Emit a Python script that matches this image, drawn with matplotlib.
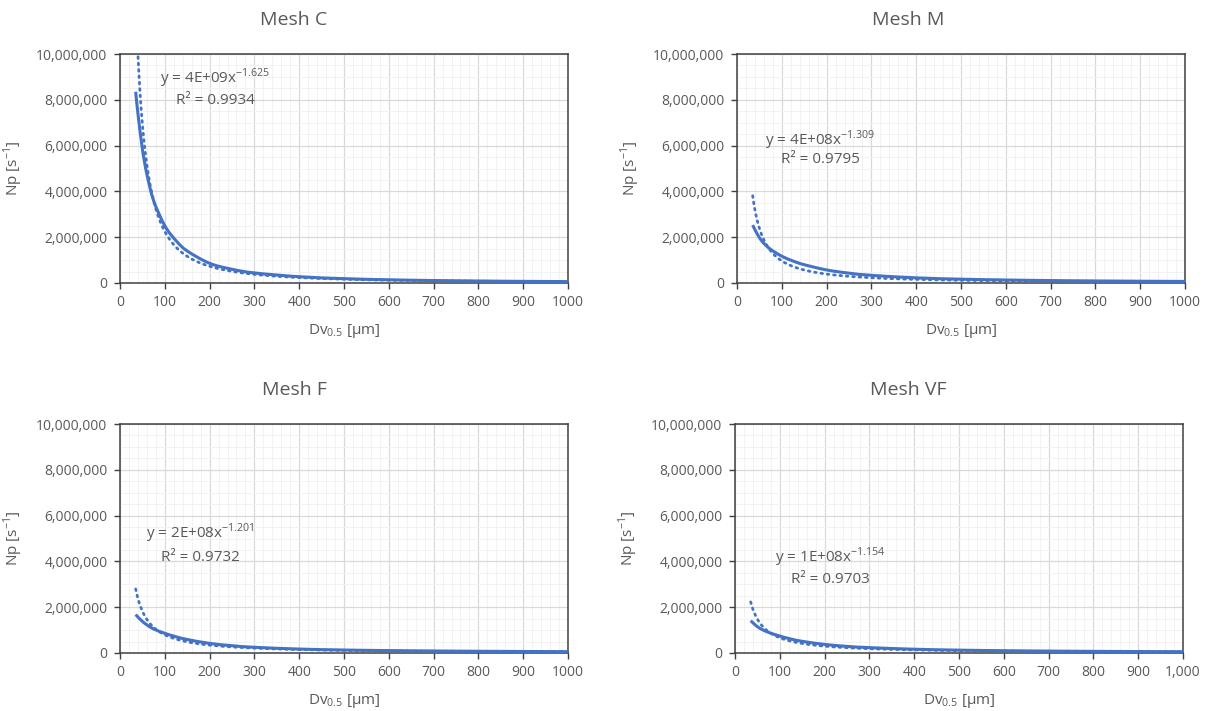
import numpy as np
import matplotlib.pyplot as plt
from matplotlib.path import Path
from matplotlib.patches import PathPatch
from matplotlib.ticker import MultipleLocator, FuncFormatter

plt.rcParams['font.family'] = ['Open Sans', 'DejaVu Sans']
plt.rcParams['mathtext.fontset'] = 'custom'
plt.rcParams['mathtext.rm'] = 'Open Sans'

# measured droplet size vs. particle number rate
dv = [35, 40, 50, 60, 75, 100, 125, 150, 200, 250, 300, 400, 500, 600, 700, 800, 900, 1000]
np_c = [8.35e6, 7.4e6, 5.85e6, 4.75e6, 3.6e6, 2.5e6, 1.85e6, 1.4e6, 0.86e6, 0.6e6, 0.44e6,
        0.275e6, 0.19e6, 0.14e6, 0.108e6, 0.087e6, 0.072e6, 0.061e6]
np_m = [2.53e6, 2.33e6, 1.98e6, 1.73e6, 1.47e6, 1.17e6, 0.96e6, 0.8e6, 0.57e6, 0.43e6, 0.335e6,
        0.225e6, 0.167e6, 0.131e6, 0.106e6, 0.09e6, 0.078e6, 0.068e6]
np_f = [1.68e6, 1.57e6, 1.38e6, 1.23e6, 1.05e6, 0.86e6, 0.71e6, 0.59e6, 0.42e6, 0.32e6, 0.25e6,
        0.172e6, 0.13e6, 0.105e6, 0.088e6, 0.076e6, 0.066e6, 0.058e6]
np_vf = [1.41e6, 1.32e6, 1.15e6, 1.03e6, 0.9e6, 0.74e6, 0.61e6, 0.51e6, 0.375e6, 0.29e6, 0.235e6,
         0.165e6, 0.125e6, 0.1e6, 0.084e6, 0.072e6, 0.063e6, 0.056e6]

# power-law trendlines y = a * x^b
meshes = ['Mesh C', 'Mesh M', 'Mesh F', 'Mesh VF']
series = [np_c, np_m, np_f, np_vf]
coef_a = [4.0e9, 4.0e8, 2.0e8, 1.35e8]
coef_b = [-1.625, -1.309, -1.201, -1.154]
r2 = [0.9934, 0.9795, 0.9732, 0.9703]
eq_pos = [(212, 8.95e6, 7.95e6), (186, 6.24e6, 5.4e6), (180, 5.24e6, 4.19e6), (212, 4.19e6, 3.19e6)]

BLUE = '#4472C4'
TXT = '#595959'


def smooth_path(x, y):
    # bezier through the points, same idea as a spreadsheet "smoothed line"
    pts = np.column_stack([x, y]).astype(float)
    ext = np.vstack([pts[0], pts, pts[-1]])
    verts = [pts[0]]
    codes = [Path.MOVETO]
    for k in range(len(pts) - 1):
        p0, p1, p2, p3 = ext[k], ext[k + 1], ext[k + 2], ext[k + 3]
        verts += [p1 + (p2 - p0) / 6, p2 - (p3 - p1) / 6, p2]
        codes += [Path.CURVE4] * 3
    return Path(verts, codes)


fig = plt.figure(figsize=(12.06, 7.11), dpi=100)
lefts = [120, 737, 120, 735]
tops = [54, 54, 424, 424]
title_x = [294, 908, 294, 908]
W, H = 1206, 711

for i in range(4):
    l, t = lefts[i], tops[i]
    ax = fig.add_axes([l / W, 1 - (t + 229) / H, 448 / W, 229 / H])

    ax.add_patch(PathPatch(smooth_path(dv, series[i]), fill=False, edgecolor=BLUE,
                           lw=2.2, capstyle='butt', zorder=3))
    xt = np.linspace(35, 1000, 400)
    ax.plot(xt, coef_a[i] * xt ** coef_b[i], color=BLUE, lw=2.0,
            linestyle=(0, (0.6, 1.7)), dash_capstyle='round', zorder=3)

    ax.set_xlim(0, 1000)
    ax.set_ylim(0, 1e7)
    ax.xaxis.set_major_locator(MultipleLocator(100))
    ax.xaxis.set_minor_locator(MultipleLocator(20))
    ax.yaxis.set_major_locator(MultipleLocator(2e6))
    ax.yaxis.set_minor_locator(MultipleLocator(5e5))
    ax.yaxis.set_major_formatter(FuncFormatter(lambda v, p: f'{v:,.0f}'))
    if i == 3:
        ax.xaxis.set_major_formatter(FuncFormatter(lambda v, p: f'{v:,.0f}'))
    else:
        ax.xaxis.set_major_formatter(FuncFormatter(lambda v, p: f'{v:.0f}'))

    ax.grid(which='major', color='#D9D9D9', lw=0.9)
    ax.grid(which='minor', color='#F2F2F2', lw=0.7)
    ax.set_axisbelow(True)
    for s in ax.spines.values():
        s.set_color('#404040')
        s.set_linewidth(1.1)
    ax.tick_params(which='major', direction='out', length=4, width=1, color='#404040',
                   labelcolor=TXT, labelsize=10, pad=5)
    ax.tick_params(which='minor', length=0)

    ax.set_xlabel(r'Dv$_{\mathregular{0.5}}$ [µm]', color=TXT, fontsize=11, labelpad=8)
    ax.set_ylabel(r'Np [s$^{\mathregular{-1}}$]', color=TXT, fontsize=11, labelpad=8)

    ex, ey1, ey2 = eq_pos[i]
    ax.text(ex, ey1, f'y = {coef_a[i]:.0E}x' + r'$^{\mathregular{' + f'{coef_b[i]:.3f}' + '}}$',
            color=TXT, fontsize=11, ha='center', va='center')
    ax.text(ex, ey2, f'R² = {r2[i]:.4f}', color=TXT, fontsize=11, ha='center', va='center')

    fig.text(title_x[i] / W, 1 - (t - 34) / H, meshes[i], color=TXT, fontsize=14,
             ha='center', va='center')

fig.savefig('out.png', dpi=100, facecolor='white')
